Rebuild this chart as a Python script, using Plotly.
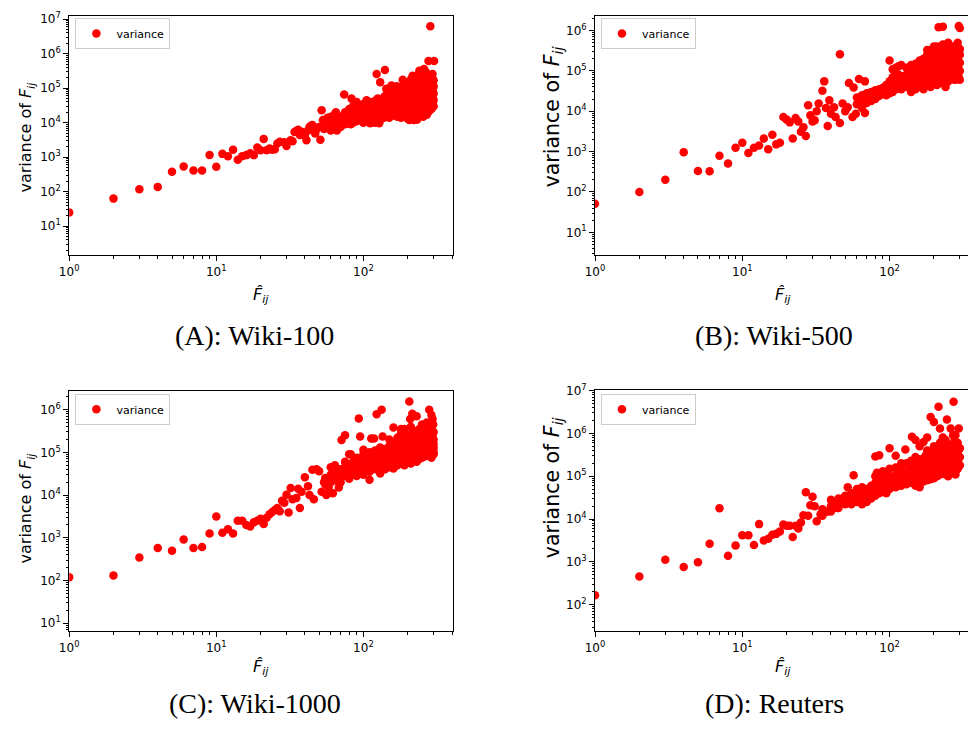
import plotly.graph_objects as go

# ---------------- data ----------------
panel_captions = ["(A): Wiki-100", "(B): Wiki-500", "(C): Wiki-1000", "(D): Reuters"]
series_name = "variance"

x_tick_vals = [1, 10, 100]
x_tick_text = ["10<sup>0</sup>", "10<sup>1</sup>", "10<sup>2</sup>"]
a_y_tick_vals = [1e1, 1e2, 1e3, 1e4, 1e5, 1e6, 1e7]
a_y_tick_text = ["10<sup>1</sup>", "10<sup>2</sup>", "10<sup>3</sup>", "10<sup>4</sup>",
                 "10<sup>5</sup>", "10<sup>6</sup>", "10<sup>7</sup>"]
b_y_tick_vals = [1e1, 1e2, 1e3, 1e4, 1e5, 1e6]
b_y_tick_text = ["10<sup>1</sup>", "10<sup>2</sup>", "10<sup>3</sup>", "10<sup>4</sup>",
                 "10<sup>5</sup>", "10<sup>6</sup>"]
c_y_tick_vals = [1e1, 1e2, 1e3, 1e4, 1e5, 1e6]
c_y_tick_text = b_y_tick_text
d_y_tick_vals = [1e2, 1e3, 1e4, 1e5, 1e6, 1e7]
d_y_tick_text = ["10<sup>2</sup>", "10<sup>3</sup>", "10<sup>4</sup>", "10<sup>5</sup>",
                 "10<sup>6</sup>", "10<sup>7</sup>"]

# (F_hat, variance) pairs
a_points = [
    (1, 25), (2, 63), (3, 117), (4, 138), (5, 380), (6, 540), (7, 415), (8, 415), (9, 1160),
    (10, 530), (11, 1250), (12, 1070), (13, 1650), (14, 850), (15, 1070), (16, 1150), (17, 1300),
    (18, 1150), (19, 1900), (20, 1600), (21, 3400), (22, 1600), (23, 1800), (24, 1650), (25, 1700),
    (26, 2500), (27, 2800), (29, 2700), (30, 2100), (32, 3100), (33, 2900), (34, 5400), (36, 6300),
    (37, 4400), (39, 5000), (41, 3100), (43, 7500), (45, 8600), (47, 4900), (51, 3200), (52, 23000),
    (54, 6600), (58, 9400), (61, 12000), (64, 18000), (66, 6000), (70, 13000), (74, 66000),
    (77, 18000), (83, 50000), (85, 12000), (90, 18000), (95, 28000), (100, 23000), (106, 43000),
    (111, 9600), (117, 28000), (123, 260000), (130, 150000), (140, 340000), (143, 97000),
    (128, 9600), (168, 115000), (185, 175000), (195, 45000), (205, 12000), (216, 230000),
    (225, 12500), (232, 12500), (240, 320000), (258, 360000), (277, 620000), (302, 620000),
    (285, 6300000), (295, 260000), (300, 170000), (298, 120000),
    (35, 5800), (38, 5500), (40, 4200), (42, 6000), (44, 8200), (46, 7000), (48, 6500), (50, 7500),
    (53, 12000), (56, 10000), (57, 14000), (59, 7000), (62, 8500), (63, 14000),
    (55, 7000), (55, 12000), (60, 9000), (60, 15000), (60, 6000), (65, 8000), (65, 12000), (65, 20000),
    (70, 10000), (70, 15000), (70, 7500), (75, 9000), (75, 14000), (75, 20000),
    (80, 12000), (80, 18000), (80, 25000), (80, 10000), (85, 10000), (85, 15000), (85, 22000), (85, 30000),
    (90, 11000), (90, 25000), (90, 40000), (95, 12000), (95, 20000), (95, 30000),
    (100, 14000), (100, 35000), (100, 10000), (105, 12000), (105, 18000), (105, 28000), (105, 45000),
    (110, 15000), (110, 25000), (115, 13000), (115, 20000), (115, 30000), (115, 40000),
    (120, 16000), (120, 25000), (120, 35000), (120, 10000), (125, 14000), (125, 22000), (125, 30000), (125, 50000),
    (130, 18000), (130, 28000), (130, 40000), (130, 12000),
    (140, 15000), (140, 20000), (140, 30000), (140, 45000), (140, 60000),
    (150, 14000), (150, 25000), (150, 35000), (150, 55000), (150, 80000),
    (160, 18000), (160, 28000), (160, 40000), (160, 65000), (160, 100000),
    (170, 15000), (170, 22000), (170, 35000), (170, 50000), (170, 80000),
    (180, 14000), (180, 20000), (180, 30000), (180, 45000), (180, 70000), (180, 110000),
    (190, 16000), (190, 25000), (190, 40000), (190, 60000), (190, 90000), (190, 150000),
    (200, 13000), (200, 20000), (200, 30000), (200, 50000), (200, 75000), (200, 120000),
    (210, 18000), (210, 28000), (210, 42000), (210, 65000), (210, 100000), (210, 180000),
    (220, 12000), (220, 22000), (220, 35000), (220, 55000), (220, 85000), (220, 140000), (220, 220000),
    (230, 12500), (230, 20000), (230, 30000), (230, 48000), (230, 75000), (230, 120000),
    (240, 16000), (240, 25000), (240, 40000), (240, 60000), (240, 95000), (240, 160000), (240, 280000),
    (250, 18000), (250, 28000), (250, 45000), (250, 70000), (250, 110000), (250, 200000),
    (260, 20000), (260, 32000), (260, 50000), (260, 80000), (260, 130000), (260, 240000),
    (270, 17000), (270, 26000), (270, 40000), (270, 60000), (270, 100000), (270, 170000),
    (280, 22000), (280, 35000), (280, 55000), (280, 85000), (280, 140000),
    (290, 25000), (290, 38000), (290, 60000), (290, 90000), (290, 150000), (290, 240000),
    (300, 30000), (300, 45000), (300, 70000), (300, 110000),
    (145, 18000), (145, 35000), (145, 70000), (155, 20000), (155, 40000), (155, 120000),
    (165, 16000), (165, 30000), (165, 55000), (175, 18000), (175, 40000), (175, 95000),
    (185, 22000), (185, 35000), (185, 80000), (195, 18000), (195, 32000), (195, 70000), (195, 120000),
    (205, 22000), (205, 40000), (205, 80000), (205, 150000), (215, 15000), (215, 30000), (215, 55000),
    (215, 120000), (225, 18000), (225, 40000), (225, 70000), (225, 110000), (235, 15000), (235, 28000),
    (235, 55000), (235, 200000), (245, 20000), (245, 35000), (245, 80000), (245, 130000),
    (255, 15000), (255, 38000), (255, 60000), (255, 150000), (265, 25000), (265, 40000), (265, 70000),
    (265, 110000), (265, 300000), (275, 20000), (275, 32000), (275, 75000), (275, 200000),
    (285, 28000), (285, 48000), (285, 120000), (285, 180000), (295, 35000), (295, 55000),
    (295, 80000), (295, 130000),
    (67, 10000), (72, 12000), (78, 15000), (82, 9000), (88, 14000), (92, 22000), (98, 17000),
    (103, 25000), (108, 20000), (112, 32000), (118, 18000), (122, 45000), (127, 20000),
    (135, 25000), (135, 35000), (135, 50000), (138, 14000),
]

b_points = [
    (1, 51), (2, 100), (3, 200), (4, 970), (5, 330), (6, 325), (7, 790), (8, 510), (9, 1240),
    (10, 1660), (11, 920), (12, 1240), (13, 1420), (14, 2100), (15, 1140), (16, 2630), (17, 1510),
    (18, 1660), (19, 7200), (20, 6200), (21, 5300), (22, 2100), (23, 6800), (24, 5600), (25, 3100),
    (26, 4000), (27, 2450), (28, 14000), (29, 7900), (30, 5600), (31, 6000), (32, 10000),
    (33, 15500), (35, 32000), (36, 55000), (37, 12000), (38, 4300), (39, 18600), (40, 8700),
    (42, 12500), (43, 7200), (46, 260000), (46, 5100), (48, 15500), (50, 10000), (52, 12600),
    (53, 50000), (56, 7200), (57, 39000), (59, 8700), (62, 63000), (68, 55000), (68, 9100),
    (62, 20000), (65, 23000), (100, 180000),
    (60, 15000), (60, 22000), (65, 18000), (65, 25000), (65, 12000), (70, 20000), (70, 28000), (70, 16000),
    (75, 22000), (75, 30000), (75, 18000), (80, 25000), (80, 33000), (80, 20000),
    (85, 24000), (85, 35000), (85, 28000), (90, 27000), (90, 38000), (90, 30000),
    (95, 30000), (95, 45000), (95, 25000), (100, 28000), (100, 40000), (100, 55000),
    (105, 30000), (105, 45000), (105, 70000), (105, 110000), (110, 35000), (110, 50000), (110, 90000), (110, 120000),
    (115, 40000), (115, 60000), (115, 80000), (115, 130000), (120, 35000), (120, 50000), (120, 75000), (120, 140000),
    (130, 40000), (130, 55000), (130, 80000), (130, 120000),
    (140, 45000), (140, 65000), (140, 95000), (140, 140000), (140, 30000),
    (150, 35000), (150, 50000), (150, 75000), (150, 110000), (150, 150000),
    (160, 40000), (160, 60000), (160, 90000), (160, 130000), (160, 180000),
    (170, 35000), (170, 55000), (170, 80000), (170, 120000), (170, 200000),
    (180, 45000), (180, 65000), (180, 100000), (180, 150000), (180, 250000), (180, 330000),
    (190, 40000), (190, 60000), (190, 90000), (190, 140000), (190, 220000), (190, 330000),
    (200, 50000), (200, 75000), (200, 110000), (200, 170000), (200, 280000), (200, 400000),
    (210, 45000), (210, 70000), (210, 100000), (210, 160000), (210, 250000), (210, 400000),
    (220, 55000), (220, 85000), (220, 130000), (220, 200000), (220, 350000),
    (230, 50000), (230, 75000), (230, 120000), (230, 180000), (230, 300000), (230, 450000),
    (240, 40000), (240, 90000), (240, 140000), (240, 220000), (240, 380000),
    (250, 55000), (250, 80000), (250, 120000), (250, 190000), (250, 300000), (250, 500000),
    (260, 65000), (260, 100000), (260, 160000), (260, 250000),
    (270, 70000), (270, 110000), (270, 170000), (270, 270000), (270, 400000),
    (280, 60000), (280, 90000), (280, 140000), (280, 220000), (280, 350000),
    (290, 75000), (290, 120000), (290, 190000), (290, 300000), (290, 500000),
    (300, 60000), (300, 100000), (300, 160000), (300, 250000), (300, 350000),
    (215, 1200000), (230, 1250000), (295, 1300000), (300, 1150000),
    (145, 55000), (145, 85000), (145, 120000), (155, 45000), (155, 65000), (155, 95000), (155, 130000),
    (165, 50000), (165, 75000), (165, 110000), (165, 160000), (175, 45000), (175, 70000), (175, 100000),
    (175, 140000), (185, 55000), (185, 80000), (185, 120000), (185, 200000), (195, 50000), (195, 75000),
    (195, 120000), (195, 180000), (205, 60000), (205, 90000), (205, 140000), (205, 220000),
    (215, 55000), (215, 80000), (215, 120000), (215, 190000), (215, 300000), (225, 65000),
    (225, 100000), (225, 150000), (225, 250000), (235, 60000), (235, 90000), (235, 140000),
    (235, 220000), (245, 70000), (245, 110000), (245, 170000), (245, 260000), (255, 65000),
    (255, 95000), (255, 150000), (255, 230000), (265, 75000), (265, 120000), (265, 200000),
    (265, 350000), (275, 60000), (275, 90000), (275, 140000), (275, 220000), (285, 80000),
    (285, 130000), (285, 200000), (285, 320000), (295, 70000), (295, 110000), (295, 170000),
    (295, 260000),
]

c_points = [
    (1, 120), (2, 132), (3, 346), (4, 580), (5, 500), (6, 915), (7, 580), (8, 610), (9, 1260),
    (10, 3160), (11, 1310), (12, 1580), (13, 1260), (14, 2500), (15, 2500), (16, 2000), (17, 1850),
    (18, 2300), (19, 2500), (20, 2800), (21, 2100), (22, 2950), (23, 3550), (24, 4000), (25, 4500),
    (26, 5000), (27, 4200), (28, 7400), (29, 6600), (30, 10200), (31, 3900), (32, 14700),
    (33, 8000), (35, 8500), (36, 14000), (37, 5000), (38, 12000), (40, 26000), (42, 16000),
    (43, 10000), (45, 39000), (46, 8000), (48, 40000), (50, 36000), (52, 12000), (54, 20000),
    (56, 10000), (58, 15000), (60, 45000), (62, 11000), (64, 50000), (66, 30000), (68, 15000),
    (71, 194000), (75, 250000), (77, 37000), (80, 90000), (82, 90000), (93, 620000),
    (95, 235000), (100, 115000), (110, 23000), (113, 210000), (118, 210000), (123, 780000),
    (133, 1000000), (135, 235000), (205, 1560000), (208, 600000), (215, 800000), (230, 700000),
    (280, 1000000), (290, 750000), (295, 600000), (298, 450000), (300, 160000), (300, 100000),
    (160, 380000), (180, 350000), (195, 250000),
    (55, 18000), (55, 25000), (60, 20000), (60, 30000), (65, 22000), (65, 35000),
    (70, 25000), (70, 40000), (70, 20000), (75, 28000), (75, 45000), (75, 60000),
    (80, 24000), (80, 35000), (80, 50000), (85, 30000), (85, 42000), (85, 60000),
    (90, 28000), (90, 40000), (90, 55000), (90, 75000), (95, 35000), (95, 50000), (95, 70000),
    (100, 30000), (100, 45000), (100, 65000), (100, 90000),
    (110, 35000), (110, 50000), (110, 70000), (110, 100000),
    (120, 40000), (120, 55000), (120, 80000), (120, 110000),
    (130, 32000), (130, 45000), (130, 65000), (130, 90000), (130, 130000),
    (140, 40000), (140, 60000), (140, 85000), (140, 120000),
    (150, 45000), (150, 65000), (150, 95000), (150, 140000), (150, 200000),
    (160, 42000), (160, 60000), (160, 90000), (160, 130000),
    (170, 50000), (170, 70000), (170, 100000), (170, 150000), (170, 220000),
    (180, 55000), (180, 80000), (180, 120000), (180, 170000), (180, 280000),
    (190, 50000), (190, 75000), (190, 110000), (190, 160000), (190, 240000), (190, 350000),
    (200, 60000), (200, 90000), (200, 130000), (200, 190000),
    (210, 55000), (210, 80000), (210, 120000), (210, 180000), (210, 270000), (210, 400000),
    (220, 65000), (220, 95000), (220, 140000), (220, 210000), (220, 320000),
    (230, 60000), (230, 90000), (230, 130000), (230, 200000), (230, 300000),
    (240, 70000), (240, 100000), (240, 150000), (240, 230000), (240, 350000),
    (250, 75000), (250, 110000), (250, 170000), (250, 260000), (250, 450000),
    (260, 80000), (260, 120000), (260, 180000), (260, 280000),
    (270, 85000), (270, 130000), (270, 200000), (270, 300000), (270, 500000),
    (280, 90000), (280, 140000), (280, 220000), (280, 350000),
    (290, 75000), (290, 110000), (290, 170000), (290, 260000), (290, 400000),
    (300, 90000), (300, 130000), (300, 200000), (300, 300000),
    (145, 50000), (145, 75000), (145, 105000), (155, 55000), (155, 80000), (155, 115000),
    (165, 50000), (165, 75000), (165, 110000), (165, 170000), (175, 60000), (175, 90000),
    (175, 130000), (185, 65000), (185, 95000), (185, 140000), (185, 220000), (195, 60000),
    (195, 90000), (195, 140000), (205, 70000), (205, 100000), (205, 150000), (205, 230000),
    (215, 70000), (215, 105000), (215, 160000), (215, 250000), (225, 75000), (225, 115000),
    (225, 170000), (225, 270000), (235, 70000), (235, 110000), (235, 160000), (235, 250000),
    (245, 80000), (245, 120000), (245, 190000), (245, 300000), (255, 85000), (255, 130000),
    (255, 200000), (255, 320000), (265, 90000), (265, 140000), (265, 220000), (265, 350000),
    (275, 95000), (275, 150000), (275, 240000), (275, 380000), (285, 85000), (285, 130000),
    (285, 200000), (285, 300000), (295, 100000), (295, 160000), (295, 250000),
    (72, 30000), (78, 35000), (88, 35000), (92, 48000), (98, 40000), (105, 55000), (115, 60000),
    (125, 70000), (135, 75000), (105, 38000), (125, 48000),
]

d_points = [
    (1, 165), (2, 456), (3, 1120), (4, 760), (5, 980), (6, 2630), (7, 17800), (8, 1380), (9, 2400),
    (10, 4160), (11, 4160), (12, 2460), (13, 7600), (14, 3160), (15, 3470), (16, 4300), (17, 4500),
    (18, 5100), (19, 7400), (20, 7000), (21, 7000), (22, 3800), (23, 7000), (24, 6000), (25, 8300),
    (26, 12300), (27, 42000), (28, 12000), (29, 21000), (30, 33000), (31, 20000), (32, 8900),
    (34, 13000), (36, 14000), (38, 15000), (40, 20000), (42, 25000), (44, 18000), (46, 28000),
    (48, 30000), (50, 22000), (52, 55000), (55, 32000), (57, 105000), (60, 50000), (62, 25000),
    (80, 290000), (85, 310000), (82, 120000), (100, 450000), (128, 420000), (142, 830000),
    (170, 630000), (190, 2400000), (200, 1850000), (215, 4200000), (245, 2100000), (272, 5500000),
    (260, 1300000), (295, 1300000), (280, 900000), (110, 300000), (120, 200000), (150, 700000),
    (160, 500000), (180, 800000), (220, 1300000), (230, 800000),
    (35, 12000), (35, 17000), (40, 15000), (40, 28000), (45, 18000), (45, 25000), (45, 30000),
    (50, 28000), (50, 35000), (55, 22000), (55, 40000), (60, 25000), (60, 35000), (60, 45000),
    (65, 22000), (65, 30000), (65, 40000), (65, 55000), (70, 25000), (70, 35000), (70, 50000),
    (75, 30000), (75, 42000), (75, 60000), (80, 35000), (80, 50000), (80, 70000), (80, 100000),
    (85, 40000), (85, 55000), (85, 80000), (90, 45000), (90, 65000), (90, 90000), (90, 130000),
    (95, 40000), (95, 60000), (95, 85000), (95, 120000),
    (100, 50000), (100, 70000), (100, 100000), (100, 150000),
    (110, 55000), (110, 80000), (110, 110000), (110, 160000),
    (120, 60000), (120, 85000), (120, 120000), (120, 180000),
    (130, 65000), (130, 90000), (130, 130000), (130, 200000),
    (140, 70000), (140, 100000), (140, 150000), (140, 230000),
    (150, 60000), (150, 85000), (150, 120000), (150, 180000), (150, 280000),
    (160, 55000), (160, 80000), (160, 110000), (160, 170000), (160, 250000),
    (170, 75000), (170, 110000), (170, 160000), (170, 240000),
    (180, 80000), (180, 120000), (180, 170000), (180, 260000), (180, 400000),
    (190, 85000), (190, 130000), (190, 190000), (190, 300000),
    (200, 90000), (200, 140000), (200, 200000), (200, 320000), (200, 500000),
    (210, 100000), (210, 150000), (210, 220000), (210, 350000),
    (220, 110000), (220, 160000), (220, 250000), (220, 400000), (220, 600000),
    (230, 120000), (230, 180000), (230, 280000), (230, 450000),
    (240, 110000), (240, 170000), (240, 260000), (240, 400000), (240, 700000),
    (250, 100000), (250, 150000), (250, 230000), (250, 350000), (250, 550000),
    (260, 120000), (260, 180000), (260, 280000), (260, 450000),
    (270, 130000), (270, 200000), (270, 300000), (270, 500000), (270, 900000),
    (280, 110000), (280, 170000), (280, 260000), (280, 400000),
    (290, 150000), (290, 230000), (290, 350000), (290, 600000),
    (300, 180000), (300, 280000), (300, 450000),
    (145, 85000), (145, 120000), (145, 170000), (155, 75000), (155, 100000), (155, 150000),
    (155, 220000), (165, 80000), (165, 120000), (165, 180000), (175, 90000), (175, 130000),
    (175, 200000), (175, 300000), (185, 95000), (185, 140000), (185, 210000), (195, 100000),
    (195, 150000), (195, 230000), (195, 380000), (205, 110000), (205, 170000), (205, 260000),
    (215, 120000), (215, 180000), (215, 280000), (215, 450000), (225, 130000), (225, 200000),
    (225, 300000), (235, 140000), (235, 210000), (235, 330000), (235, 550000), (245, 130000),
    (245, 200000), (245, 320000), (255, 120000), (255, 190000), (255, 300000), (255, 480000),
    (265, 150000), (265, 230000), (265, 360000), (275, 160000), (275, 250000), (275, 400000),
    (275, 650000), (285, 140000), (285, 210000), (285, 330000), (295, 170000), (295, 260000),
    (295, 420000),
    (72, 40000), (78, 50000), (88, 55000), (92, 75000), (98, 70000), (105, 65000), (105, 90000),
    (115, 70000), (115, 100000), (125, 75000), (125, 110000), (135, 80000), (135, 120000),
]

# ---------------- figure ----------------
W, H = 976, 729
OFF_X, OFF_Y = 11, 8  # page offset of the figure inside the browser window
RED = "#ff0000"
FONT = "DejaVu Sans"


def px_x(p):
    return min(1.0, max(0.0, (p - OFF_X) / W))


def px_y(p):
    return min(1.0, max(0.0, 1 - (p - OFF_Y) / H))


minor_vals = [k * 10 ** d for d in range(-1, 8) for k in range(2, 10)]

# axis calibration in target-screen pixels: (pixel of 10^k, k, pixels per decade)
# box: left, right, top, bottom (screen pixels of the target picture)
panels = [
    dict(pts=a_points, box=(62.7, 450.5, 7, 250), xcal=(62.7, 0, 148.65), ycal=(11.3, 7, 34.87),
         ytv=a_y_tick_vals, ytt=a_y_tick_text, ymirror=True, leg=(69, 10),
         ylab=(20, 130, 16), xlab=(257, 291), cap=(250, 331)),
    dict(pts=b_points, box=(594, 990, 7, 250), xcal=(594, 0, 148.8), ycal=(22.7, 6, 40.8),
         ytv=b_y_tick_vals, ytt=b_y_tick_text, ymirror=False, leg=(600, 10),
         ylab=(551, 110, 20.5), xlab=(784, 291), cap=(775, 331)),
    dict(pts=c_points, box=(62.7, 450.5, 387, 630), xcal=(62.7, 0, 148.65), ycal=(406, 6, 43.2),
         ytv=c_y_tick_vals, ytt=c_y_tick_text, ymirror=True, leg=(69, 390),
         ylab=(20, 505, 16), xlab=(257, 667), cap=(250, 703)),
    dict(pts=d_points, box=(594, 990, 386, 630), xcal=(594, 0, 148.8), ycal=(386.7, 7, 43.3),
         ytv=d_y_tick_vals, ytt=d_y_tick_text, ymirror=False, leg=(600, 390),
         ylab=(551, 485, 20.5), xlab=(784, 667), cap=(775, 703)),
]

fig = go.Figure()
annotations = []
layout_upd = {}

for i, p in enumerate(panels):
    sfx = "" if i == 0 else str(i + 1)
    leg_name = "legend" if i == 0 else f"legend{i + 1}"
    xs = [q[0] for q in p["pts"]]
    ys = [q[1] for q in p["pts"]]
    fig.add_trace(go.Scatter(
        x=xs, y=ys, mode="markers", name=series_name,
        marker=dict(color=RED, size=8.5, line=dict(width=0)),
        xaxis="x" + sfx, yaxis="y" + sfx, legend=leg_name, showlegend=True,
    ))
    # domain in figure fractions, clipped to the figure
    left, right, top, bottom = p["box"]
    x0, x1 = px_x(left), px_x(right)
    y0, y1 = px_y(bottom), px_y(top)
    # screen pixels actually covered by the clipped domain
    sl, sr = OFF_X + x0 * W, OFF_X + x1 * W
    st, sb = OFF_Y + (1 - y1) * H, OFF_Y + (1 - y0) * H
    xp, xk, xd = p["xcal"]
    yp, yk, yd = p["ycal"]
    xr = [xk + (sl - xp) / xd, xk + (sr - xp) / xd]
    yr = [yk - (sb - yp) / yd, yk - (st - yp) / yd]
    axis_common = dict(
        type="log", showline=True, linecolor="black", linewidth=1,
        ticks="outside", ticklen=5, tickwidth=1, tickcolor="black",
        showgrid=False, zeroline=False, ticklabeloverflow="allow",
        tickfont=dict(family=FONT, size=12, color="black"),
        minor=dict(ticks="outside", ticklen=2.5, tickwidth=0.8, tickcolor="black",
                   tickvals=minor_vals, showgrid=False),
        tickmode="array",
    )
    layout_upd["xaxis" + sfx] = dict(
        axis_common, domain=[x0, x1], range=xr,
        anchor="y" + sfx, mirror=True, tickvals=x_tick_vals, ticktext=x_tick_text,
    )
    layout_upd["yaxis" + sfx] = dict(
        axis_common, domain=[y0, y1], range=yr,
        anchor="x" + sfx, mirror=p["ymirror"], tickvals=p["ytv"], ticktext=p["ytt"],
    )
    layout_upd[leg_name] = dict(
        x=px_x(p["leg"][0]), y=px_y(p["leg"][1]), xanchor="left", yanchor="top",
        bgcolor="rgba(255,255,255,0.8)", bordercolor="#cccccc", borderwidth=1,
        font=dict(family=FONT, size=11, color="black"),
        itemwidth=30, tracegroupgap=0,
    )
    lx, ly, lsize = p["ylab"]
    annotations.append(dict(
        text="variance of <i>F</i><sub><i>ij</i></sub>", textangle=-90,
        x=px_x(lx), y=px_y(ly), xref="paper", yref="paper",
        xanchor="center", yanchor="middle", showarrow=False,
        font=dict(family=FONT, size=lsize, color="black"),
    ))
    annotations.append(dict(
        text="<i>F\u0302</i><sub><i>ij</i></sub>",
        x=px_x(p["xlab"][0]), y=px_y(p["xlab"][1]), xref="paper", yref="paper",
        xanchor="center", yanchor="middle", showarrow=False,
        font=dict(family=FONT, size=16, color="black"),
    ))
    annotations.append(dict(
        text=panel_captions[i],
        x=px_x(p["cap"][0]), y=px_y(p["cap"][1]), xref="paper", yref="paper",
        xanchor="center", yanchor="middle", showarrow=False,
        font=dict(family="Liberation Serif", size=28, color="black"),
    ))

fig.update_layout(
    width=W, height=H, margin=dict(l=0, r=0, t=0, b=0),
    paper_bgcolor="white", plot_bgcolor="white",
    font=dict(family=FONT, color="black"),
    annotations=annotations,
    **layout_upd,
)

fig.write_html("out.html")
